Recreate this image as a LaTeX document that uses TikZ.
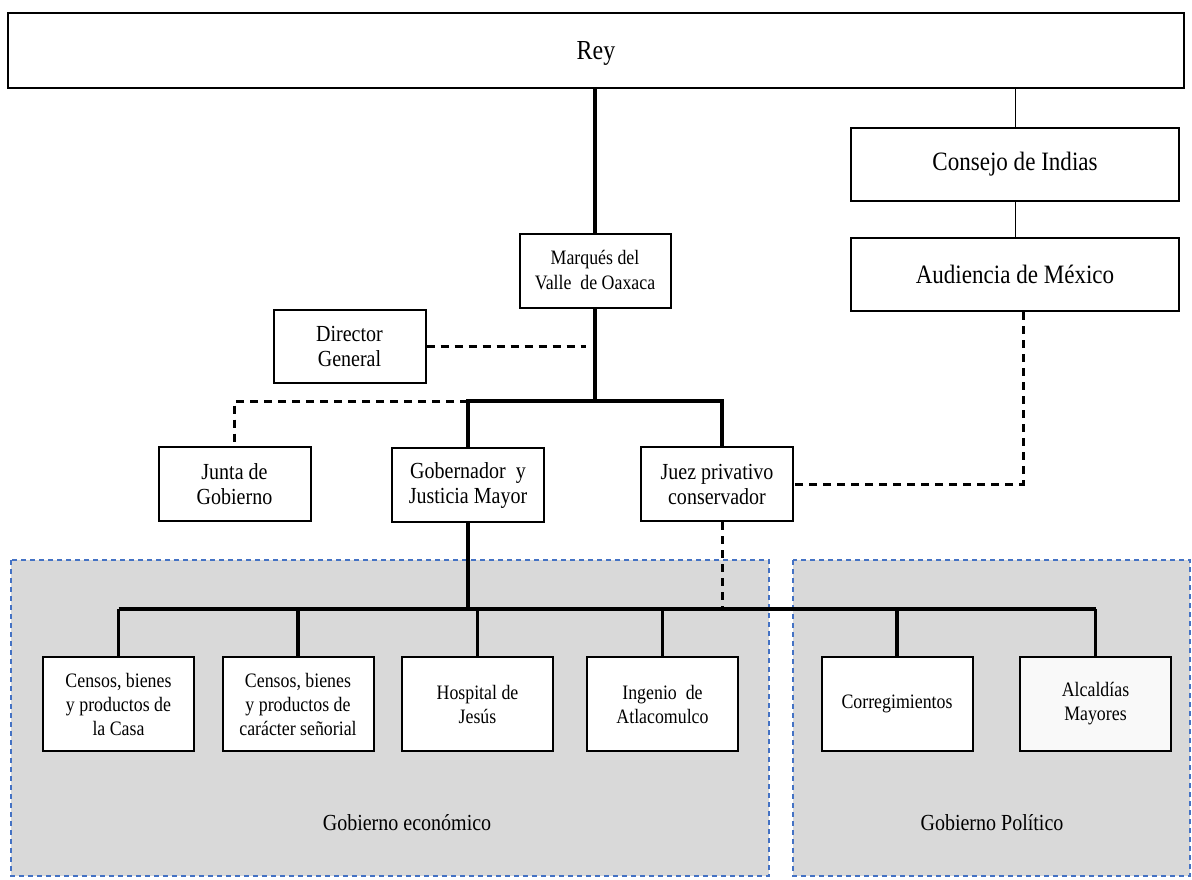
\documentclass[tikz,border=0pt]{standalone}
\usepackage{fontspec}
\setmainfont[FakeStretch=0.87]{Liberation Serif}
\usetikzlibrary{positioning}
\definecolor{regionblue}{RGB}{68,114,196}
\definecolor{regiongray}{RGB}{217,217,217}

\begin{document}
\begin{tikzpicture}[x=1pt, y=-1pt,
    box/.style={rectangle, draw, line width=2pt, fill=white, align=center, inner sep=0pt, font=\fontsize{23}{25}\selectfont},
    unit/.style={box, minimum width=152pt, minimum height=74pt},
    dept/.style={box, minimum width=151pt, minimum height=94pt, font=\fontsize{20.5}{24}\selectfont},
    main/.style={line width=3.2pt},
    thin/.style={line width=1pt},
    aux/.style={line width=3pt, dash pattern=on 8pt off 6pt},
    region/.style={fill=regiongray, draw=regionblue, line width=1.6pt, dash pattern=on 5pt off 4pt},
    lbl/.style={font=\fontsize{23}{24}\selectfont, inner sep=0pt}]
    \useasboundingbox (0,0) rectangle (1192,880);
    % zonas de gobierno
    \draw [region] (11,560) rectangle (769,876);
    \draw [region] (793,560) rectangle (1190,876);
    \node [lbl] (economico) at (407,823) {Gobierno económico};
    \node [lbl] (politico) at (992,823) {Gobierno Político};

    \node [box, minimum width=1176pt, minimum height=75pt, font=\fontsize{27.5}{30}\selectfont] (rey) at (596,50.5) {\raisebox{-9.5pt}[0pt][0pt]{Rey}};
    \node [box, minimum width=328pt, minimum height=73pt, font=\fontsize{26.5}{30}\selectfont] (consejo) at (1015,164.5) {Consejo de Indias};
    \node [box, minimum width=328pt, minimum height=73pt, font=\fontsize{26.5}{30}\selectfont] (audiencia) at (1015,274.5) {Audiencia de México};
    \node [unit, minimum width=151pt, font=\fontsize{20.5}{25}\selectfont] (marques) at (595,270.5) {Marqués del\\Valle\ \ de Oaxaca};
    \node [unit, minimum height=73pt] (director) at (349.5,346.5) {Director\\General};
    \node [unit] (junta) at (234.5,484) {Junta de\\Gobierno};
    \node [unit] (gobernador) at (468,485) {Gobernador\ \ y\\Justicia Mayor};
    \node [unit] (juez) at (717,484) {Juez privativo\\conservador};

    \node [dept] (casa) at (118.5,704) {Censos, bienes\\y productos de\\la Casa};
    \node [dept] (senorial) at (298,704) {Censos, bienes\\y productos de\\carácter señorial};
    \node [dept] (hospital) at (477.5,704) {Hospital de\\Jesús};
    \node [dept] (ingenio) at (662.5,704) {Ingenio\ \ de\\Atlacomulco};
    \node [dept] (corregimientos) at (897,704) {Corregimientos};
    \node [dept, fill=gray!5] (alcaldias) at (1095.5,704) {Alcaldías\\Mayores};

    \coordinate (hub) at (595,401);
    \coordinate (jtop) at (722,401);
    \coordinate (low) at (468,609);

    % mando directo
    \draw [main] (rey.south -| marques.north) -- (marques.north);
    \draw [main] (marques.south) -- (hub);
    \draw [main] (gobernador.north) -- (gobernador.north |- hub) -- (jtop) -- (jtop |- juez.north);
    \draw [main] (gobernador.south) -- (gobernador.south |- low);
    \draw [main] (casa.north |- low) -- (alcaldias.north |- low);
    \foreach \n in {casa,senorial,hospital,ingenio,corregimientos,alcaldias}
        \draw [main] (\n.north |- low) -- (\n.north);

    % relaciones indirectas
    \draw [aux] (director.east) -- ([xshift=-9pt]director.east -| hub);
    \draw [aux] (gobernador.north |- hub) -| (junta.north);
    \draw [aux] (jtop |- juez.south) -- (jtop |- low);
    \draw [aux] ([xshift=8pt]audiencia.south) |- (juez.east);

    \draw [thin] (rey.south -| consejo.north) -- (consejo.north);
    \draw [thin] (consejo) -- (audiencia);
\end{tikzpicture}
\end{document}
